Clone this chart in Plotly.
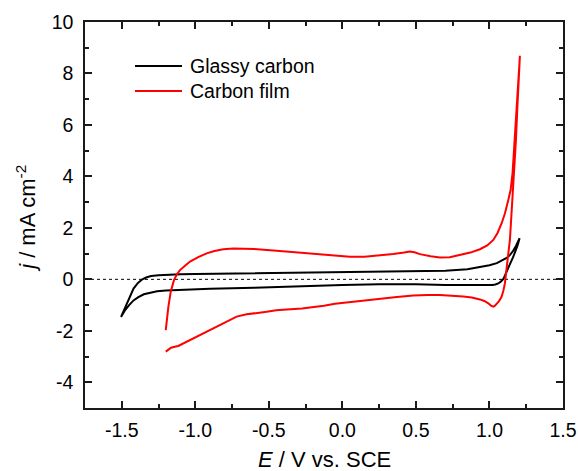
import plotly.graph_objects as go

# ---------------- data ----------------
# Glassy carbon CV loop (anodic sweep then cathodic return)
E_gc = [-1.505, -1.48, -1.45, -1.42, -1.39, -1.36, -1.33, -1.30, -1.25, -1.20, -1.10, -1.00,
        -0.70, -0.30, 0.00, 0.25, 0.50, 0.70, 0.85, 0.94, 1.00, 1.05, 1.09, 1.12, 1.14, 1.16,
        1.18, 1.205,
        1.19, 1.175, 1.16, 1.14, 1.125, 1.11, 1.095, 1.075, 1.06, 1.04, 1.02, 0.90, 0.70, 0.50,
        0.25, 0.00, -0.30, -0.60, -0.90, -1.08, -1.20, -1.26, -1.31, -1.35, -1.39, -1.42, -1.45,
        -1.48, -1.505]
j_gc = [-1.46, -1.12, -0.72, -0.36, -0.14, 0.00, 0.08, 0.13, 0.16, 0.18, 0.20, 0.21,
        0.23, 0.26, 0.28, 0.29, 0.30, 0.33, 0.39, 0.47, 0.55, 0.63, 0.74, 0.84, 0.95, 1.10,
        1.30, 1.60,
        1.30, 1.05, 0.85, 0.60, 0.42, 0.25, 0.02, -0.10, -0.16, -0.20, -0.22, -0.22, -0.22, -0.19,
        -0.19, -0.22, -0.28, -0.33, -0.37, -0.40, -0.43, -0.46, -0.52, -0.58, -0.70, -0.82, -1.00,
        -1.22, -1.46]

# Carbon film CV loop
E_cf = [-1.201, -1.195, -1.183, -1.167, -1.145, -1.125, -1.104, -1.07, -1.036, -0.98, -0.923,
        -0.87, -0.81, -0.74, -0.674, -0.60, -0.447, -0.288, -0.10, 0.05, 0.15, 0.255, 0.346,
        0.42, 0.459, 0.49, 0.527, 0.60, 0.663, 0.73, 0.799, 0.87, 0.935, 0.985, 1.026, 1.055,
        1.083, 1.105, 1.128, 1.144, 1.157, 1.171, 1.187, 1.20, 1.207,
        1.20, 1.19, 1.18, 1.168, 1.155, 1.139, 1.125, 1.115, 1.105, 1.094, 1.083, 1.065, 1.049,
        1.036, 1.026, 1.01, 0.992, 0.965, 0.935, 0.88, 0.822, 0.74, 0.663, 0.58, 0.482, 0.37,
        0.255, 0.15, 0.075, -0.05, -0.125, -0.20, -0.275, -0.379, -0.45, -0.515, -0.60, -0.651,
        -0.719, -0.80, -0.90, -1.014, -1.07, -1.116, -1.14, -1.165, -1.185, -1.201]
j_cf = [-1.97, -1.60, -1.06, -0.48, -0.03, 0.20, 0.36, 0.53, 0.69, 0.86, 1.01,
        1.10, 1.17, 1.20, 1.20, 1.18, 1.11, 1.04, 0.95, 0.88, 0.88, 0.92, 0.98,
        1.04, 1.08, 1.05, 0.98, 0.90, 0.85, 0.86, 0.95, 1.04, 1.17, 1.32, 1.53, 1.80,
        2.18, 2.56, 3.08, 3.48, 4.13, 5.42, 6.72, 8.01, 8.69,
        8.01, 6.72, 5.42, 4.13, 2.83, 1.53, 0.85, 0.30, -0.16, -0.45, -0.67, -0.85, -0.96,
        -1.03, -1.06, -1.02, -0.93, -0.84, -0.78, -0.71, -0.67, -0.63, -0.61, -0.61, -0.63, -0.69,
        -0.76, -0.82, -0.87, -0.95, -1.03, -1.09, -1.13, -1.17, -1.20, -1.26, -1.31, -1.36,
        -1.45, -1.68, -1.97, -2.29, -2.45, -2.59, -2.62, -2.66, -2.74, -2.81]

series_names = ["Glassy carbon", "Carbon film"]
series_colors = ["#000000", "#ff0000"]

x_tickvals = [-1.5, -1.0, -0.5, 0.0, 0.5, 1.0, 1.5]
x_ticktext = ["-1.5", "-1.0", "-0.5", "0.0", "0.5", "1.0", "1.5"]
y_tickvals = [-4, -2, 0, 2, 4, 6, 8, 10]
y_ticktext = ["-4", "-2", "0", "2", "4", "6", "8", "10"]

FONT = "Liberation Sans, Arial, Helvetica, sans-serif"
AX = "#1a1a1a"

fig = go.Figure()
fig.add_trace(go.Scatter(x=E_gc, y=j_gc, mode="lines", name=series_names[0],
                         line=dict(color=series_colors[0], width=2), showlegend=False))
fig.add_trace(go.Scatter(x=E_cf, y=j_cf, mode="lines", name=series_names[1],
                         line=dict(color=series_colors[1], width=2), showlegend=False))

# zero reference line
fig.add_shape(type="line", xref="paper", x0=0, x1=1, yref="y", y0=0, y1=0,
              line=dict(color="black", width=1, dash="dot"), layer="below")

axis_common = dict(showline=True, linewidth=1.5, linecolor=AX, mirror="allticks",
                   ticks="inside", ticklen=7, tickwidth=1.5, tickcolor=AX,
                   showgrid=False, zeroline=False, automargin=False,
                   tickfont=dict(family=FONT, size=19.5, color="black"))

fig.update_xaxes(range=[-1.75, 1.5], tickmode="array", tickvals=x_tickvals,
                 ticktext=x_ticktext, ticklabelstandoff=4,
                 minor=dict(ticks="inside", ticklen=4, tickwidth=1.5, tickcolor=AX, dtick=0.25,
                            tick0=0, showgrid=False),
                 **axis_common)
fig.update_yaxes(range=[-5, 10], tickmode="array", tickvals=y_tickvals,
                 ticktext=y_ticktext, ticklabelstandoff=6,
                 minor=dict(ticks="inside", ticklen=4, tickwidth=1.5, tickcolor=AX, dtick=1,
                            tick0=0, showgrid=False),
                 **axis_common)

# axis titles
fig.add_annotation(text="<i>E</i> / V vs. SCE", xref="paper", yref="paper", x=0.5, y=0,
                   xanchor="center", yanchor="bottom", yshift=-66, showarrow=False,
                   font=dict(family=FONT, size=22, color="black"))
fig.add_annotation(text="<i>j</i> / mA cm<sup>-2</sup>", xref="paper", yref="paper", x=0,
                   y=0.49, xanchor="center", yanchor="middle", xshift=-59, textangle=-90,
                   showarrow=False, font=dict(family=FONT, size=22, color="black"))

# legend (drawn manually to match the long sample lines)
leg_y = [0.886, 0.821]
for name, color, ly in zip(series_names, series_colors, leg_y):
    fig.add_shape(type="line", xref="paper", yref="paper", x0=0.1046, x1=0.2029, y0=ly, y1=ly,
                  line=dict(color=color, width=2))
    fig.add_annotation(text=name, xref="paper", yref="paper", x=0.2155, y=ly,
                       xanchor="left", yanchor="middle", showarrow=False,
                       font=dict(family=FONT, size=19.5, color="black"))

fig.update_layout(width=578, height=471, margin=dict(l=85, r=15, t=22, b=63),
                  paper_bgcolor="white", plot_bgcolor="white",
                  font=dict(family=FONT, color="black"), showlegend=False)

fig.write_html("out.html")
